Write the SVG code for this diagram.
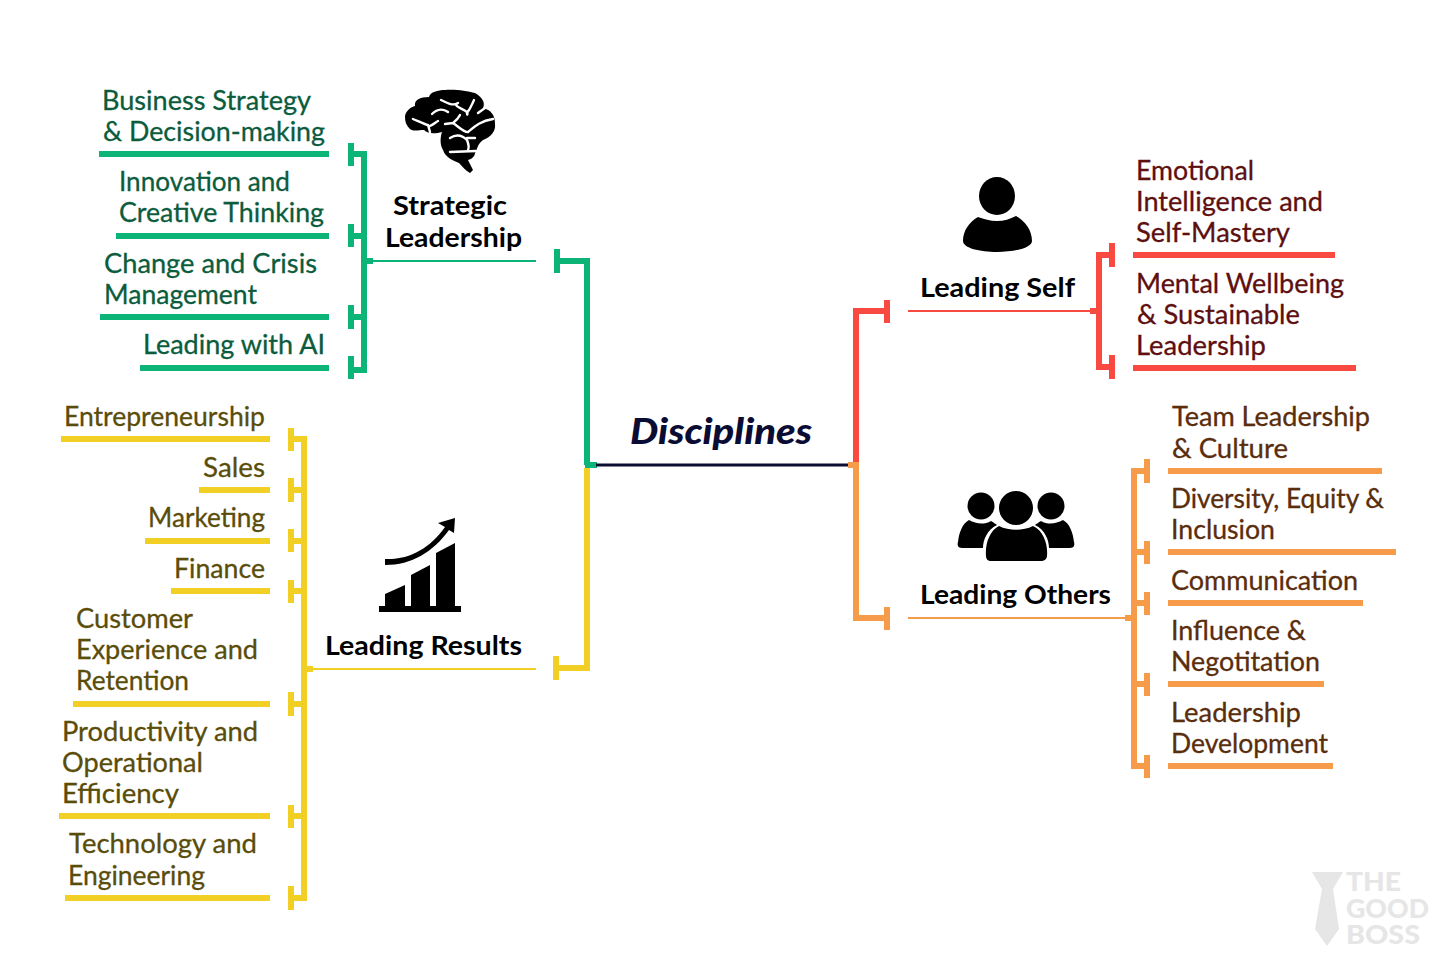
<svg xmlns="http://www.w3.org/2000/svg" width="1456" height="971" viewBox="0 0 1456 971">
<style>
text{font-family:"Lato","Open Sans","Liberation Sans",sans-serif;font-size:27px}
.h{font-weight:700;fill:#000;font-size:27px}
.g{fill:#0b5c3d;stroke:#0b5c3d;stroke-width:.3}.y{fill:#5a4d0a;stroke:#5a4d0a;stroke-width:.3}.r{fill:#5e0f0f;stroke:#5e0f0f;stroke-width:.3}
.o{fill:#5a2d0c;stroke:#5a2d0c;stroke-width:.3}
.gs{stroke:#0cb577}.ys{stroke:#f1cf24}.rs{stroke:#f84a40}.os{stroke:#f59b4a}
line,polyline{fill:none}
.w5{stroke-width:6}.w1{stroke-width:2}
.wm{font-size:26px;font-weight:900}
</style>
<rect width="1456" height="971" fill="#fff"/>
<g id="connectors">
<g class="gs w5">
<polyline points="351,154 364,154 364,370 351,370"/><line x1="351" y1="143" x2="351" y2="166"/><line x1="351" y1="224" x2="351" y2="247"/><line x1="351" y1="236" x2="364" y2="236"/><line x1="351" y1="305" x2="351" y2="329"/><line x1="351" y1="317" x2="364" y2="317"/><line x1="351" y1="356" x2="351" y2="379"/><line x1="364" y1="261" x2="373" y2="261"/>
<polyline points="557,261 587,261 587,465"/><line x1="557" y1="249" x2="557" y2="273"/><line x1="585" y1="465" x2="597" y2="465"/>
</g>
<line class="gs w1" x1="370" y1="261" x2="536" y2="261"/>
<g class="ys w5">
<polyline points="291,439 304,439 304,898 291,898"/><line x1="291" y1="428" x2="291" y2="451"/><line x1="291" y1="478" x2="291" y2="502"/><line x1="291" y1="490" x2="304" y2="490"/><line x1="291" y1="529" x2="291" y2="552"/><line x1="291" y1="541" x2="304" y2="541"/><line x1="291" y1="580" x2="291" y2="603"/><line x1="291" y1="591" x2="304" y2="591"/><line x1="291" y1="692" x2="291" y2="716"/><line x1="291" y1="704" x2="304" y2="704"/><line x1="291" y1="805" x2="291" y2="828"/><line x1="291" y1="816" x2="304" y2="816"/><line x1="291" y1="886" x2="291" y2="910"/><line x1="304" y1="669" x2="313" y2="669"/>
<polyline points="587,468 587,668 556,668"/><line x1="556" y1="656" x2="556" y2="680"/>
</g>
<line class="ys w1" x1="310" y1="669" x2="536" y2="669"/>
<line x1="596" y1="465" x2="848" y2="465" stroke="#0b0c33" stroke-width="3"/>
<g class="rs w5">
<polyline points="856,462 856,311 887,311"/><line x1="887" y1="300" x2="887" y2="323"/>
<polyline points="1112,255 1099,255 1099,367 1112,367"/><line x1="1112" y1="243" x2="1112" y2="267"/><line x1="1112" y1="355" x2="1112" y2="379"/><line x1="1090" y1="311" x2="1099" y2="311"/>
</g>
<line class="rs w1" x1="908" y1="311" x2="1095" y2="311"/>
<g class="os w5">
<polyline points="848,465 856,465 856,618 887,618"/><line x1="887" y1="607" x2="887" y2="630"/>
<polyline points="1147,471 1134,471 1134,766 1147,766"/><line x1="1147" y1="459" x2="1147" y2="483"/><line x1="1147" y1="541" x2="1147" y2="564"/><line x1="1147" y1="552" x2="1134" y2="552"/><line x1="1147" y1="592" x2="1147" y2="615"/><line x1="1147" y1="603" x2="1134" y2="603"/><line x1="1147" y1="673" x2="1147" y2="696"/><line x1="1147" y1="684" x2="1134" y2="684"/><line x1="1147" y1="755" x2="1147" y2="778"/><line x1="1125" y1="618" x2="1134" y2="618"/>
</g>
<line class="os w1" x1="908" y1="618" x2="1130" y2="618"/>
</g>

<g id="root-disciplines"><text x="630" y="444" style="font-size:36px;font-weight:900;font-style:italic;fill:#0b0c33" textLength="182" lengthAdjust="spacingAndGlyphs">Disciplines</text></g>

<g id="strategic-leadership">
<path d="M405,117C405,111 411,107 415,106C414,100 420,97 429,97C430,92 438,90 445,90C455,89 467,91 475,93C484,98 485,104 483,108C491,110 495,115 495,124C496,131 491,137 483,140C477,144 477,151 475,153C475,156 472,159 468,160L473,170L470,173C466,171 462,166 459,163C451,160 445,156 443,150C440,145 440,138 442,132C435,134 428,134 424,130C418,130 412,132 409,128C406,125 405,121 405,117Z" fill="#000"/>
<g fill="none" stroke="#fff" stroke-width="2.4" stroke-linecap="round" stroke-linejoin="round"><path d="M441,100C449,104 453,106 458,103C452,106 462,108 467,112C468,114 467,116 467,113C471,108 472,104 474,100"/><path d="M432,114C438,108 444,109 448,112"/><path d="M413,119C420,122 424,124 430,126C434,124 436,122 438,121M428,125L430,132"/><path d="M445,124L453,123C457,120 459,117 460,115M453,123C460,128 465,133 468,132C474,127 480,121 493,119"/><path d="M450,138C456,134 462,135 467,140C469,145 469,148 468,150"/><path d="M450,152L476,151"/><path d="M478,113L485,108M467,138H475"/></g>
<text class="h" x="393" y="215" textLength="114" lengthAdjust="spacingAndGlyphs">Strategic</text>
<text class="h" x="385" y="247" textLength="137" lengthAdjust="spacingAndGlyphs">Leadership</text>
</g>

<g id="leading-results">
<g fill="#000"><rect x="379" y="606" width="82" height="6"/><path d="M385,594L405,585V606H385Z"/><path d="M411,575L430,565V606H411Z"/><path d="M436,553L455,543V606H436Z"/><path d="M385,559C410,560 430,548 445,527L438,523L455,518L454,533L449,530C433,552 412,565 385,565Z"/></g>
<text class="h" x="325" y="655" textLength="197" lengthAdjust="spacingAndGlyphs">Leading Results</text>
</g>

<g id="leading-self">
<g fill="#000"><ellipse cx="997" cy="196" rx="18" ry="19"/><path d="M978,217C984,219 990,221 997,221C1004,221 1010,219 1016,216C1025,221 1032,230 1032,241C1032,248 1014,252 997,252C980,252 963,248 963,241C963,231 969,222 978,217Z"/></g>
<text class="h" x="920" y="297" textLength="155" lengthAdjust="spacingAndGlyphs">Leading Self</text>
</g>

<g id="leading-others">
<g fill="#000"><circle cx="1016" cy="508" r="17"/><circle cx="981" cy="506" r="13.5"/><circle cx="1051" cy="506" r="13.5"/><path d="M999,526C1009,531 1023,531 1033,526C1044,531 1048,545 1047,556C1047,559 1044,561 1041,561H991C988,561 986,559 986,556C985,545 989,531 999,526Z"/><path d="M969,520C976,524 984,525 991,521C994,523 996,524 997,525C987,530 983,540 983,548L962,548C958,548 957,545 958,542C959,533 962,524 969,520Z"/><path d="M1063,520C1056,524 1048,525 1041,521C1038,523 1036,524 1035,525C1045,530 1049,540 1049,548L1070,548C1074,548 1075,545 1074,542C1073,533 1070,524 1063,520Z"/></g>
<text class="h" x="920" y="604" textLength="191" lengthAdjust="spacingAndGlyphs">Leading Others</text>
</g>

<g id="business-strategy"><text class="g" x="102" y="110" textLength="209" lengthAdjust="spacingAndGlyphs">Business Strategy</text><text class="g" x="103" y="141" textLength="222" lengthAdjust="spacingAndGlyphs">&amp; Decision-making</text><line class="gs w5" x1="99" y1="154" x2="329" y2="154"/></g>
<g id="innovation"><text class="g" x="119" y="191" textLength="171" lengthAdjust="spacingAndGlyphs">Innovation and</text><text class="g" x="119" y="222" textLength="205" lengthAdjust="spacingAndGlyphs">Creative Thinking</text><line class="gs w5" x1="116" y1="236" x2="329" y2="236"/></g>
<g id="change"><text class="g" x="104" y="273" textLength="213" lengthAdjust="spacingAndGlyphs">Change and Crisis</text><text class="g" x="104" y="304" textLength="153" lengthAdjust="spacingAndGlyphs">Management</text><line class="gs w5" x1="100" y1="317" x2="329" y2="317"/></g>
<g id="leading-ai"><text class="g" x="143" y="354" textLength="182" lengthAdjust="spacingAndGlyphs">Leading with AI</text><line class="gs w5" x1="140" y1="368" x2="329" y2="368"/></g>

<g id="entrepreneurship"><text class="y" x="64" y="426" textLength="201" lengthAdjust="spacingAndGlyphs">Entrepreneurship</text><line class="ys w5" x1="61" y1="439" x2="270" y2="439"/></g>
<g id="sales"><text class="y" x="203" y="477" textLength="62" lengthAdjust="spacingAndGlyphs">Sales</text><line class="ys w5" x1="199" y1="490" x2="270" y2="490"/></g>
<g id="marketing"><text class="y" x="148" y="527" textLength="117" lengthAdjust="spacingAndGlyphs">Marketing</text><line class="ys w5" x1="145" y1="541" x2="270" y2="541"/></g>
<g id="finance"><text class="y" x="174" y="578" textLength="91" lengthAdjust="spacingAndGlyphs">Finance</text><line class="ys w5" x1="171" y1="591" x2="270" y2="591"/></g>
<g id="customer"><text class="y" x="76" y="628" textLength="117" lengthAdjust="spacingAndGlyphs">Customer</text><text class="y" x="76" y="659" textLength="182" lengthAdjust="spacingAndGlyphs">Experience and</text><text class="y" x="76" y="690" textLength="113" lengthAdjust="spacingAndGlyphs">Retention</text><line class="ys w5" x1="73" y1="704" x2="270" y2="704"/></g>
<g id="productivity"><text class="y" x="62" y="741" textLength="196" lengthAdjust="spacingAndGlyphs">Productivity and</text><text class="y" x="62" y="772" textLength="141" lengthAdjust="spacingAndGlyphs">Operational</text><text class="y" x="62" y="803" textLength="117" lengthAdjust="spacingAndGlyphs">Efficiency</text><line class="ys w5" x1="59" y1="816" x2="270" y2="816"/></g>
<g id="technology"><text class="y" x="69" y="853" textLength="188" lengthAdjust="spacingAndGlyphs">Technology and</text><text class="y" x="68" y="885" textLength="137" lengthAdjust="spacingAndGlyphs">Engineering</text><line class="ys w5" x1="65" y1="898" x2="270" y2="898"/></g>

<g id="emotional"><text class="r" x="1136" y="180" textLength="118" lengthAdjust="spacingAndGlyphs">Emotional</text><text class="r" x="1136" y="211" textLength="187" lengthAdjust="spacingAndGlyphs">Intelligence and</text><text class="r" x="1136" y="242" textLength="154" lengthAdjust="spacingAndGlyphs">Self-Mastery</text><line class="rs w5" x1="1133" y1="255" x2="1335" y2="255"/></g>
<g id="wellbeing"><text class="r" x="1136" y="293" textLength="208" lengthAdjust="spacingAndGlyphs">Mental Wellbeing</text><text class="r" x="1137" y="324" textLength="163" lengthAdjust="spacingAndGlyphs">&amp; Sustainable</text><text class="r" x="1136" y="355" textLength="130" lengthAdjust="spacingAndGlyphs">Leadership</text><line class="rs w5" x1="1133" y1="368" x2="1356" y2="368"/></g>

<g id="team"><text class="o" x="1172" y="426" textLength="198" lengthAdjust="spacingAndGlyphs">Team Leadership</text><text class="o" x="1172" y="458" textLength="116" lengthAdjust="spacingAndGlyphs">&amp; Culture</text><line class="os w5" x1="1168" y1="471" x2="1382" y2="471"/></g>
<g id="diversity"><text class="o" x="1171" y="508" textLength="213" lengthAdjust="spacingAndGlyphs">Diversity, Equity &amp;</text><text class="o" x="1171" y="539" textLength="104" lengthAdjust="spacingAndGlyphs">Inclusion</text><line class="os w5" x1="1168" y1="552" x2="1396" y2="552"/></g>
<g id="communication"><text class="o" x="1171" y="590" textLength="187" lengthAdjust="spacingAndGlyphs">Communication</text><line class="os w5" x1="1168" y1="603" x2="1363" y2="603"/></g>
<g id="influence"><text class="o" x="1171" y="640" textLength="135" lengthAdjust="spacingAndGlyphs">Influence &amp;</text><text class="o" x="1171" y="671" textLength="149" lengthAdjust="spacingAndGlyphs">Negotitation</text><line class="os w5" x1="1168" y1="684" x2="1324" y2="684"/></g>
<g id="development"><text class="o" x="1171" y="722" textLength="130" lengthAdjust="spacingAndGlyphs">Leadership</text><text class="o" x="1171" y="753" textLength="157" lengthAdjust="spacingAndGlyphs">Development</text><line class="os w5" x1="1168" y1="766" x2="1333" y2="766"/></g>

<g id="watermark" fill="#e6e6e6">
<path d="M1312,872H1343L1333,889L1339,929L1327,946L1315,929L1322,889Z"/>
<text class="wm" x="1346" y="891" textLength="55" lengthAdjust="spacingAndGlyphs">THE</text>
<text class="wm" x="1346" y="918" textLength="83" lengthAdjust="spacingAndGlyphs">GOOD</text>
<text class="wm" x="1346" y="944" textLength="74" lengthAdjust="spacingAndGlyphs">BOSS</text>
</g>
</svg>
